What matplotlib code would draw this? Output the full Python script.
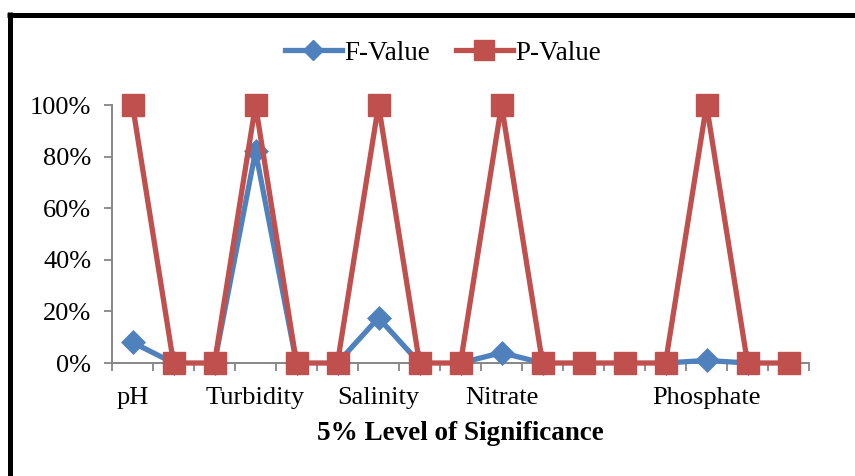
import numpy as np
import matplotlib
matplotlib.use("Agg")
import matplotlib.pyplot as plt
from matplotlib.lines import Line2D
from matplotlib.ticker import FixedLocator, PercentFormatter

categories = ["pH", "", "", "Turbidity", "", "", "Salinity", "", "", "Nitrate",
              "", "", "", "", "Phosphate", "", ""]
f_values = [8, 0, 0, 82, 0, 0, 17.5, 0, 0, 4, 0, np.nan, np.nan, 0, 1, 0, np.nan]
f_segment = [1, 1, 2, 2, 2, 3, 3, 3, 4, 4, 4, 0, 0, 5, 5, 5, 0]
p_values = [100, 0, 0, 100, 0, 0, 100, 0, 0, 100, 0, 0, 0, 0, 100, 0, 0]
y_ticks = [0, 20, 40, 60, 80, 100]
x_label = "5% Level of Significance"

BLUE = "#4F81BD"
RED = "#C0504D"
GRAY = "#868686"

plt.rcParams["font.family"] = ["Liberation Serif", "DejaVu Serif"]

fig = plt.figure(figsize=(8.55, 4.76), dpi=100)
ax = fig.add_axes([112/855, 1-363/476, (809-112)/855, (363-105)/476])

x = np.arange(len(categories))
fv = np.array(f_values, dtype=float)
seg = np.array(f_segment)
for s in sorted(set(f_segment)):
    if s == 0:
        continue
    m = seg == s
    ax.plot(x[m], fv[m], color=BLUE, lw=3.8, marker="D", ms=12.5,
            markerfacecolor=BLUE, markeredgecolor=BLUE, markeredgewidth=0.5,
            zorder=3, solid_joinstyle="round", clip_on=False)
ax.plot(x, p_values, color=RED, lw=3.8, marker="s", ms=15.5,
        markerfacecolor=RED, markeredgecolor=RED, zorder=4,
        solid_joinstyle="round", clip_on=False)

ax.set_xlim(-0.5, len(categories) - 0.5)
ax.set_ylim(0, 100)
ax.set_yticks(y_ticks)
ax.yaxis.set_major_formatter(PercentFormatter(100, decimals=0))
ax.set_xticks(x)
ax.set_xticklabels(categories)
ax.xaxis.set_minor_locator(FixedLocator(np.arange(-0.5, len(categories), 1.0)))
ax.tick_params(axis="x", which="major", length=0, pad=17, labelsize=19)
ax.tick_params(axis="x", which="minor", length=6, width=1.3, color=GRAY, direction="out")
ax.tick_params(axis="y", length=6, width=1.3, color=GRAY, labelsize=19, pad=9)
for sp in ["top", "right"]:
    ax.spines[sp].set_visible(False)
for sp in ["left", "bottom"]:
    ax.spines[sp].set_color(GRAY)
    ax.spines[sp].set_linewidth(1.4)
ax.set_xlabel(x_label, fontsize=19.5, fontweight="bold", labelpad=9)

handles = [
    Line2D([], [], color=BLUE, lw=3.8, marker="D", ms=10),
    Line2D([], [], color=RED, lw=3.8, marker="s", ms=15),
]
fig.legend(handles, ["F-Value", "P-Value"], loc="center",
           bbox_to_anchor=(443/855, 1-53/476), ncol=2, frameon=False,
           fontsize=19.5, handlelength=2.1, handletextpad=0.1,
           columnspacing=0.95, borderpad=0)

# chart border
fig.add_artist(Line2D([9.5/855, 9.5/855], [0, 1-12/476], transform=fig.transFigure,
                      color="black", lw=3.6, solid_capstyle="butt"))
fig.add_artist(Line2D([7/855, 1], [1-14.5/476, 1-14.5/476], transform=fig.transFigure,
                      color="black", lw=3.6, solid_capstyle="butt"))

fig.savefig("out.png", dpi=100, facecolor="white")
